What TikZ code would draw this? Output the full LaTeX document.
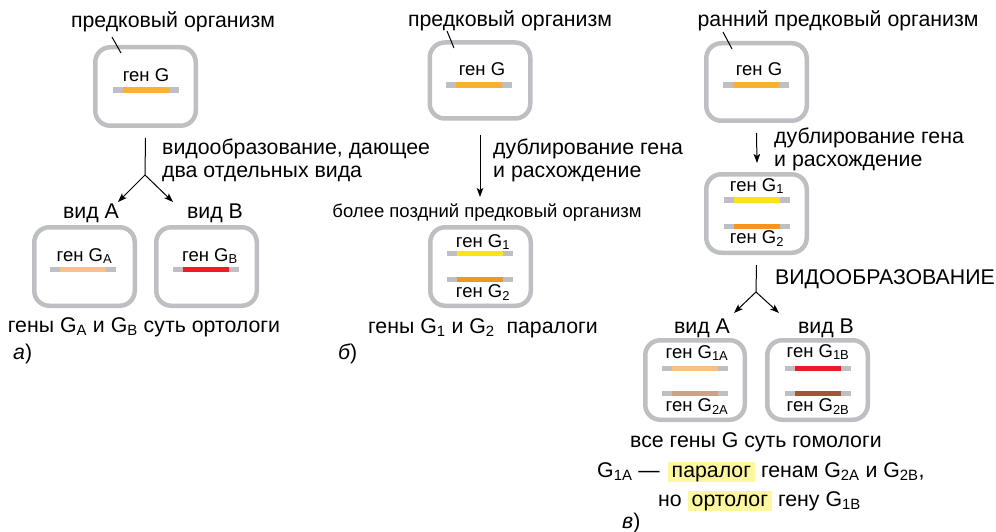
\documentclass[tikz,border=0pt]{standalone}
\usepackage{fontspec}
\setmainfont{Liberation Sans}
\usetikzlibrary{arrows.meta}
\definecolor{boxgray}{RGB}{190,191,194}
\definecolor{bargray}{RGB}{190,191,194}
\definecolor{gorange}{RGB}{251,176,52}
\definecolor{gyellow}{RGB}{255,226,24}
\definecolor{gorange2}{RGB}{247,148,30}
\definecolor{gpeach}{RGB}{251,192,130}
\definecolor{gred}{RGB}{237,28,36}
\definecolor{gtan}{RGB}{205,160,135}
\definecolor{gbrown}{RGB}{165,85,55}
\definecolor{hlyellow}{RGB}{255,247,160}
\newcommand{\sbs}[1]{\textsubscript{#1}}
\newcommand{\hlw}[1]{\begingroup\setlength{\fboxsep}{0pt}\colorbox{hlyellow}{\rule[-5pt]{0pt}{20pt}\hspace{4pt}#1\hspace{4pt}}\endgroup}
\newcommand{\gbar}[3]{\draw[bar] (#1-33,#2)--(#1+33,#2); \draw[line width=5.5pt,draw=#3] (#1-23,#2)--(#1+23,#2);}
\begin{document}
\begin{tikzpicture}[x=1pt,y=-1pt,
 main/.style={font=\fontsize{21.3}{25}\selectfont, inner sep=0, anchor=base},
 mainl/.style={main, anchor=base west},
 glab/.style={font=\fontsize{18.5}{22}\selectfont, inner sep=0, anchor=base},
 orgbox/.style={draw=boxgray, line width=4.5pt, rounded corners=15pt, minimum width=100.5pt, minimum height=78.5pt, inner sep=0},
 conn/.style={line width=1pt},
 arr/.style={conn, -{Stealth[length=9pt,width=6.5pt,inset=2pt]}},
 bar/.style={line width=5.5pt, draw=bargray}]
\useasboundingbox (0,0) rectangle (996,532);
% ---------- panel a ----------
\node[main] (ta) at (173,28) {предковый организм};
\node[orgbox] (ba0) at (145.5,86.5) {};
\coordinate (la1) at (112,37); \coordinate (la2) at (121,53);
\draw[conn] (la1) -- (la2);
\node[glab] (ga0) at (146,82) {ген G};
\gbar{146}{90}{gorange}
\coordinate (as) at (145,175);
\coordinate (aL) at (118,202); \coordinate (aR) at (173,202);
\draw[conn] ([yshift=-10pt]ba0.south) -- (as);
\draw[arr] (as) -- (aL);
\draw[arr] (as) -- (aR);
\node[mainl] (ta1) at (162,154) {видообразование, дающее};
\node[mainl] (ta2) at (162,177) {два отдельных вида};
\node[main] (vA) at (91,218) {вид А};
\node[main] (vB) at (215,218) {вид В};
\node[orgbox] (bA) at (84.5,266.5) {};
\node[orgbox] (bB) at (206.5,266.5) {};
\node[glab] (gA) at (84.5,261) {ген G\sbs{A}};
\gbar{83}{269.5}{gpeach}
\node[glab] (gB) at (210,261) {ген G\sbs{B}};
\gbar{206}{269.5}{gred}
\node[main] (orth) at (144,332) {гены G\sbs{A} и G\sbs{B} суть ортологи};
\node[mainl] (la) at (13,359) {{\itshape а})};
% ---------- panel b ----------
\node[main] (tb) at (510,27) {предковый организм};
\node[orgbox, minimum height=76pt] (bb0) at (480,80.5) {};
\coordinate (lb1) at (447,31); \coordinate (lb2) at (454,48);
\draw[conn] (lb1) -- (lb2);
\node[glab] (gb0) at (482,76) {ген G};
\gbar{479}{85}{gorange}
\coordinate (bs) at (480,197);
\draw[arr] ([yshift=-14pt]bb0.south) -- (bs);
\node[mainl] (tb1) at (493,154) {дублирование гена};
\node[mainl] (tb2) at (493,177) {и расхождение};
\node[main, font=\fontsize{18.5}{22}\selectfont] (late) at (487,217) {более поздний предковый организм};
\node[orgbox] (bb1) at (480.5,266.5) {};
\node[glab] (gb1) at (483,247) {ген G\sbs{1}};
\gbar{480}{253.5}{gyellow}
\gbar{480}{279.5}{gorange2}
\node[glab] (gb2) at (483,297) {ген G\sbs{2}};
\node[main] (para) at (483,333) {гены G\sbs{1} и G\sbs{2}\ \ паралоги};
\node[mainl] (lbb) at (338,359) {{\itshape б})};
% ---------- panel c ----------
\node[main] (tc) at (838,27) {ранний предковый организм};
\node[orgbox, minimum height=77.5pt] (bc0) at (756.5,82) {};
\coordinate (lc1) at (723,32); \coordinate (lc2) at (732,49);
\draw[conn] (lc1) -- (lc2);
\node[glab] (gc0) at (759,76) {ген G};
\gbar{756}{85}{gorange}
\coordinate (cs) at (757,163);
\draw[arr] ([yshift=-10pt]bc0.south) -- (cs);
\node[mainl] (tc1) at (774,143) {дублирование гена};
\node[mainl] (tc2) at (774,166) {и расхождение};
\node[orgbox] (bc1) at (756.5,213.5) {};
\node[glab] (gc1) at (757,191) {ген G\sbs{1}};
\gbar{757}{200}{gyellow}
\gbar{757}{226.5}{gorange2}
\node[glab] (gc2) at (757,243) {ген G\sbs{2}};
\coordinate (cb) at (756,292);
\coordinate (cL) at (734,313); \coordinate (cR) at (779,313);
\draw[conn] ([yshift=-10pt]bc1.south) -- (cb);
\draw[arr] (cb) -- (cL);
\draw[arr] (cb) -- (cR);
\node[mainl] (spec) at (775,284) {ВИДООБРАЗОВАНИЕ};
\node[main] (cvA) at (702,333) {вид А};
\node[main] (cvB) at (826,333) {вид В};
\node[orgbox, minimum width=99.5pt, minimum height=79.5pt] (bcA) at (695,380) {};
\node[orgbox, minimum width=100.5pt, minimum height=79.5pt] (bcB) at (817.5,380) {};
\node[glab] (g1A) at (697,358) {ген G\sbs{1A}};
\gbar{695}{368.5}{gpeach}
\gbar{695}{393.5}{gtan}
\node[glab] (g2A) at (697,411) {ген G\sbs{2A}};
\node[glab] (g1B) at (818,357) {ген G\sbs{1B}};
\gbar{818}{368.5}{gred}
\gbar{818}{393.5}{gbrown}
\node[glab] (g2B) at (818,411) {ген G\sbs{2B}};
\node[main] (homo) at (756,447) {все гены G суть гомологи};
\node[mainl] (s1) at (597,477) {G\sbs{1A} —\hspace{8pt}\hlw{паралог} генам G\sbs{2A} и G\sbs{2B},};
\node[mainl] (s2) at (658,506) {но \hlw{ортолог} гену G\sbs{1B}};
\node[mainl] (lc) at (622,528) {{\itshape в})};
\end{tikzpicture}
\end{document}
